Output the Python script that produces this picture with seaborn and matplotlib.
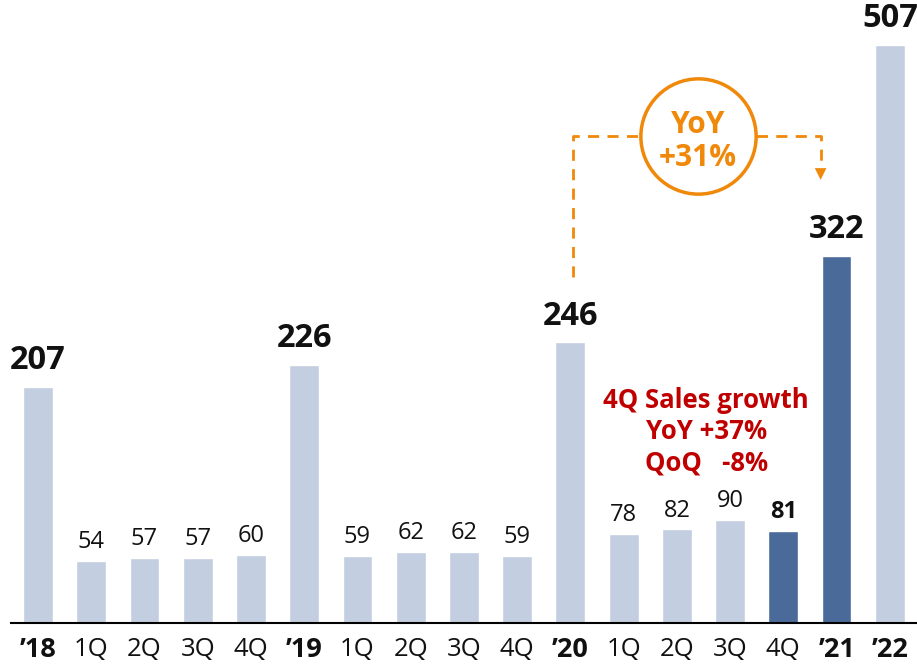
import matplotlib.pyplot as plt
import pandas as pd
import seaborn as sns

# Datos del gráfico
labels = ["’18", "1Q", "2Q", "3Q", "4Q", "’19", "1Q", "2Q", "3Q", "4Q",
          "’20", "1Q", "2Q", "3Q", "4Q", "’21", "’22"]
values = [207, 54, 57, 57, 60, 226, 59, 62, 62, 59, 246, 78, 82, 90, 81, 322, 507]
is_year = [True, False, False, False, False, True, False, False, False, False,
           True, False, False, False, False, True, True]
highlight = [False] * 14 + [True, True, False]

yoy_text = "YoY\n+31%"
growth_text = "4Q Sales growth\nYoY +37%\nQoQ   -8%"

LIGHT = "#C3CEE0"
DARK = "#4A6A9A"
ORANGE = "#F0880A"
RED = "#C00000"

sns.set_theme(style="white")
plt.rcParams["font.family"] = ["Open Sans", "DejaVu Sans"]

df = pd.DataFrame({"pos": range(len(values)), "value": values})
colors = [DARK if h else LIGHT for h in highlight]

fig = plt.figure(figsize=(9.17, 6.64), dpi=100)
ax = fig.add_axes([0.0124, 0.0617, 0.987, 0.9383])

sns.barplot(data=df, x="pos", y="value", hue="pos", palette=colors,
            legend=False, width=0.56, saturation=1, ax=ax)

ax.set_xlim(-0.5, len(values) - 0.5)
ax.set_ylim(0, 546)
for s in ["top", "right", "left"]:
    ax.spines[s].set_visible(False)
ax.spines["bottom"].set_color("black")
ax.spines["bottom"].set_linewidth(1.5)
ax.set_yticks([])
ax.set_xlabel("")
ax.set_ylabel("")
ax.set_xticks(range(len(values)))
ax.set_xticklabels(labels, fontsize=18.5, color="#111111")
for t, y in zip(ax.get_xticklabels(), is_year):
    if y:
        t.set_fontweight("bold")
        t.set_fontsize(19.5)
ax.tick_params(axis="x", length=0, pad=10)

# Etiquetas de valores
for i, (v, y, h) in enumerate(zip(values, is_year, highlight)):
    if y:
        ax.annotate(str(v), (i, v), xytext=(0, 7), textcoords="offset points",
                    ha="center", va="bottom", fontsize=23.5, fontweight="bold",
                    color="#111111")
    else:
        ax.annotate(str(v), (i, v), xytext=(0, 5), textcoords="offset points",
                    ha="center", va="bottom", fontsize=17,
                    fontweight="bold" if h else "normal", color="#111111")

# Anotación YoY con flecha discontinua
x_left, x_circ, x_right = 10.05, 12.4, 14.7
y_line = 427
ax.plot([x_left, x_left, x_circ], [303, y_line, y_line], color=ORANGE,
        lw=2, ls=(0, (4, 3)))
ax.plot([x_circ, x_right, x_right], [y_line, y_line, 398], color=ORANGE,
        lw=2, ls=(0, (4, 3)))
ax.annotate("", xy=(x_right, 386), xytext=(x_right, 400),
            arrowprops=dict(arrowstyle="-|>,head_width=0.35,head_length=0.7",
                            color=ORANGE, lw=0))
ax.scatter([x_circ], [y_line], s=83 ** 2, facecolor="white",
           edgecolor=ORANGE, linewidth=2.5, zorder=5)
ax.text(x_circ, y_line - 5, yoy_text, ha="center", va="center", fontsize=21.5,
        fontweight="bold", color=ORANGE, linespacing=1.1, zorder=6)

ax.text(12.55, 168, growth_text, ha="center", va="center", fontsize=18.5,
        fontweight="bold", color=RED, linespacing=1.2)

fig.savefig("out.png", dpi=100)
